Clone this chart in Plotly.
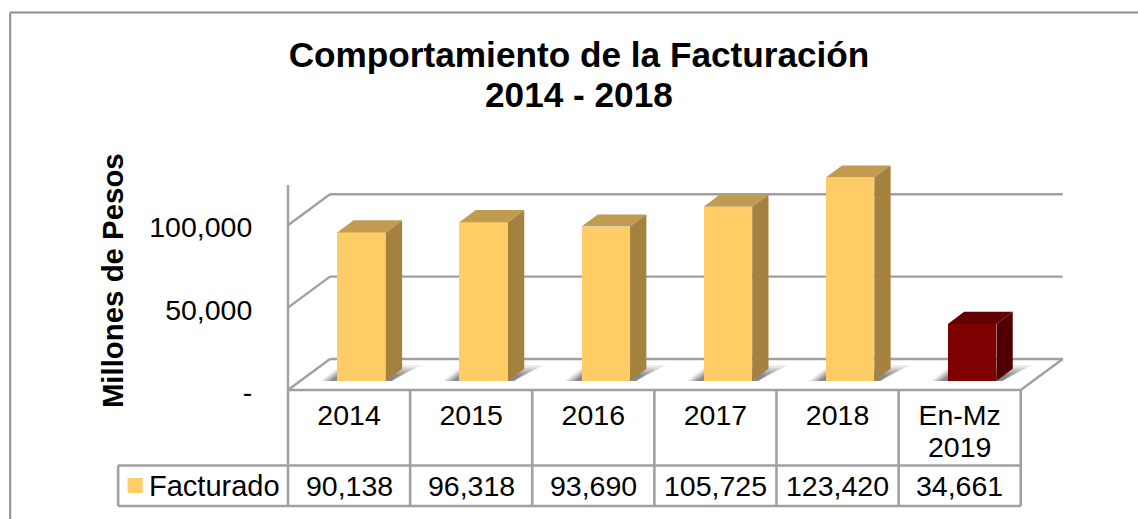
import plotly.graph_objects as go

categories = ["2014", "2015", "2016", "2017", "2018", "En-Mz"]
second_line = "2019"
values = [90138, 96318, 93690, 105725, 123420, 34661]
series_name = "Facturado"
y_ticks = [0, 50000, 100000]
y_labels = ["-", "50,000", "100,000"]
title_line1 = "Comportamiento de la Facturación"
title_line2 = "2014 - 2018"
y_title = "Millones de Pesos"

FACE = ["#FFCC66"] * 5 + ["#7F0000"]
TOP = ["#C19B50"] * 5 + ["#640000"]
SIDE = ["#A5813F"] * 5 + ["#500000"]
GRID = "#A0A0A0"
FONT = "Liberation Sans"

# pixel geometry of the plot
W, H = 1138, 519
L, R, T, B = 287.5, 1072.0, 160.0, 390.0
CAT_PX = 122.2
UNIT_PX = 82.4 / 50000
ux = lambda px: px / CAT_PX          # px -> category units
uy = lambda px: px / UNIT_PX         # px -> value units
DX, DY = ux(42), uy(31)              # floor depth
BX, BY = ux(12.5), uy(9)             # bar offset onto the floor
SX, SY = ux(16.3), uy(12.2)          # bar depth
BW = ux(48.6)
x_max = ux(R - L)
y_max = uy(B - T)
AXIS_TOP = uy(B - 185)
# axis units -> plot-fraction references (these are not clipped to the plot area)
xp = lambda u: u / x_max
yp = lambda v: v / y_max
px_x = lambda px: xp(ux(px - L))
px_y = lambda py: yp(uy(B - py))

n = len(categories)
centers = [i + 0.5 + BX for i in range(n)]
ticks_x = [i + 0.5 for i in range(n)]

fig = go.Figure()

shapes = []
def line(x0, y0, x1, y1, w=2.4, color=GRID, layer="below"):
    shapes.append(dict(type="line", xref="paper", yref="paper",
                       x0=xp(x0), y0=yp(y0), x1=xp(x1), y1=yp(y1),
                       line=dict(color=color, width=w), layer=layer))

# walls and floor
for v in y_ticks:
    line(0, v, DX, v + DY)
    line(DX, v + DY, n + DX, v + DY)
line(0, 0, 0, AXIS_TOP)
line(0, 0, n, 0)
line(n, 0, n + DX, DY)

# soft floor shadows
for c in centers:
    for grow, op in ((1.0, 0.10), (0.85, 0.14), (0.7, 0.18), (0.55, 0.22), (0.4, 0.26)):
        gx = ux(17) * grow
        hx = ux(36) * grow
        hy = uy(16) * grow
        xr = c + BW / 2
        xl = c - BW / 2
        path = (f"M {xp(xl - gx)},{yp(BY)} L {xp(xl)},{yp(BY + hy*0.8)} L {xp(xr)},{yp(BY + hy)} "
                f"L {xp(xr + hx)},{yp(BY + hy)} L {xp(xr + ux(6))},{yp(BY)} Z")
        shapes.append(dict(type="path", xref="paper", yref="paper", path=path, layer="below",
                           fillcolor=f"rgba(70,70,70,{op})", line=dict(width=0)))

# front faces
fig.add_trace(go.Bar(
    x=centers, y=values, base=[BY] * n, width=BW, name=series_name,
    marker=dict(color=FACE, line=dict(width=0)), showlegend=False,
))

# top and side faces, derived from the values
for c, v, top, side in zip(centers, values, TOP, SIDE):
    xl, xr = c - BW / 2, c + BW / 2
    yb, yt = BY, BY + v
    fig.add_trace(go.Scatter(
        x=[xl, xr, xr + SX, xl + SX, xl], y=[yt, yt, yt + SY, yt + SY, yt],
        mode="lines", fill="toself", fillcolor=top, line=dict(width=0), hoverinfo="skip", showlegend=False))
    fig.add_trace(go.Scatter(
        x=[xr, xr + SX, xr + SX, xr, xr], y=[yb, yb + SY, yt + SY, yt, yb],
        mode="lines", fill="toself", fillcolor=side, line=dict(width=0), hoverinfo="skip", showlegend=False))

# data table
R1, R2 = 465.5, 506.0
def table_y(py):
    return uy(B - py)
for i in range(n + 1):
    line(i, 0, i, table_y(R2), w=2.6)
LEG_L = ux(117.5 - L)
line(LEG_L, table_y(R1), n, table_y(R1), w=2.6)
line(LEG_L, table_y(R2), n, table_y(R2), w=2.6)
line(LEG_L, table_y(R1), LEG_L, table_y(R2), w=2.6)
# legend key
shapes.append(dict(type="rect", xref="paper", yref="paper",
                   x0=px_x(127), x1=px_x(142), y0=px_y(478), y1=px_y(493),
                   fillcolor=FACE[0], line=dict(width=0)))
# outer frame (left and top edges visible)
shapes.append(dict(type="line", xref="paper", yref="paper",
                   x0=px_x(9.5), x1=px_x(9.5), y0=px_y(12.5), y1=px_y(H),
                   line=dict(color="#8C8C8C", width=2)))
shapes.append(dict(type="line", xref="paper", yref="paper",
                   x0=px_x(9.5), x1=px_x(W), y0=px_y(12.5), y1=px_y(12.5),
                   line=dict(color="#8C8C8C", width=2)))

annotations = []
FS = 28.5
def text(px, py, s, size=FS, angle=0, anchor="center"):
    annotations.append(dict(x=px_x(px), y=px_y(py), xref="paper", yref="paper", text=s, showarrow=False,
                            xanchor=anchor, yanchor="middle", textangle=angle,
                            font=dict(size=size, color="#000", family=FONT)))
for x, v in zip(ticks_x, values):
    text(L + x * CAT_PX, 485.5, f"{v:,}")
text(146, 485.5, series_name, size=29, anchor="left")
text(L + ticks_x[-1] * CAT_PX, 447, second_line)
text(111.5, 281, f"<b>{y_title}</b>", size=29.4, angle=-90)
text(579, 95, f"<b>{title_line2}</b>", size=35.2)

fig.update_layout(
    width=W, height=H, autosize=False,
    margin=dict(l=L, r=W - R, t=T, b=H - B, pad=0),
    paper_bgcolor="#FFFFFF", plot_bgcolor="rgba(0,0,0,0)",
    showlegend=False, bargap=0,
    title=dict(text=f"<b>{title_line1}</b>", x=579 / W, xanchor="center", xref="container",
               y=1 - 55 / H, yanchor="middle", yref="container",
               font=dict(size=35.2, color="#000", family=FONT)),
    xaxis=dict(range=[0, x_max], tickmode="array", tickvals=ticks_x, ticktext=categories,
               showgrid=False, zeroline=False, showline=False, ticks="outside", ticklen=0,
               tickcolor="rgba(0,0,0,0)", tickangle=0,
               tickfont=dict(size=FS, color="#000", family=FONT)),
    yaxis=dict(range=[0, y_max], tickmode="array", tickvals=y_ticks, ticktext=y_labels,
               showgrid=False, zeroline=False, showline=False, ticks="outside", ticklen=29,
               tickcolor="rgba(0,0,0,0)", ticklabelshift=2,
               tickfont=dict(size=FS, color="#000", family=FONT)),
    shapes=shapes, annotations=annotations,
)
fig.write_html("out.html", config=dict(displayModeBar=False),
               post_script="document.body.style.margin='0';document.body.style.overflow='hidden';")
